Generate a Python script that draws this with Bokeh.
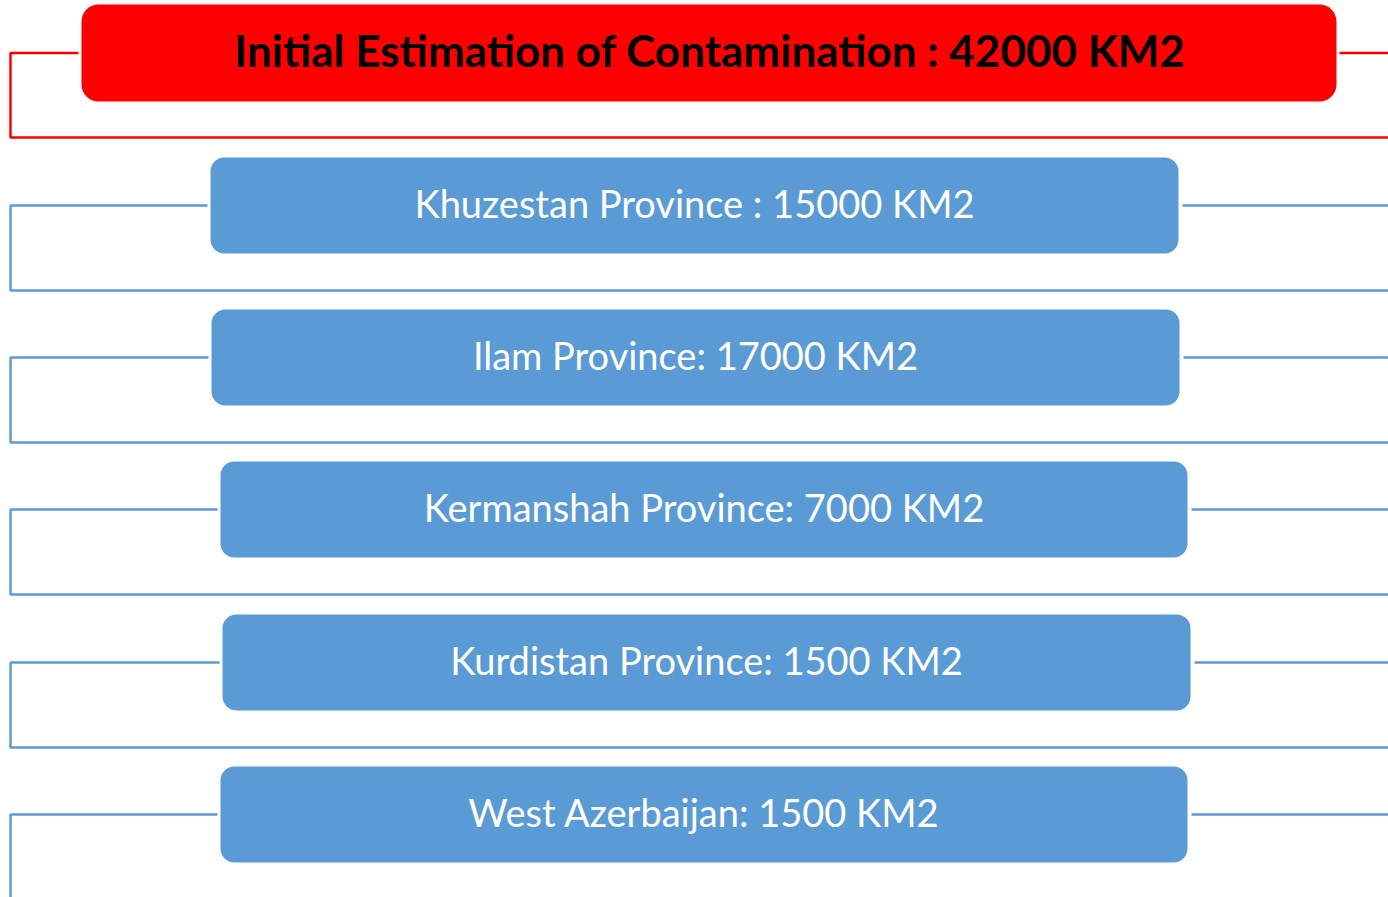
from bokeh.plotting import figure
from bokeh.models import Range1d
from bokeh.core.properties import value
from bokeh.embed import file_html
from bokeh.resources import INLINE

# ---- data ----
title_label = "Initial Estimation of Contamination : 42000 KM2"
provinces = ["Khuzestan Province", "Ilam Province", "Kermanshah Province",
             "Kurdistan Province", "West Azerbaijan"]
separators = [" : ", ": ", ": ", ": ", ": "]
areas_km2 = [15000, 17000, 7000, 1500, 1500]
labels = [f"{n}{s}{a} KM2" for n, s, a in zip(provinces, separators, areas_km2)]

# ---- layout (pixel space of the picture) ----
RED = "#FF0000"
BLUE = "#5B9BD5"
FONT = "Lato"
LW = 2.5

p = figure(width=1388, height=897, output_backend="svg", toolbar_location=None,
           x_range=Range1d(0, 1388), y_range=Range1d(897, 0),
           min_border=0)
p.axis.visible = False
p.grid.visible = False
p.outline_line_color = None
p.background_fill_color = "white"
p.border_fill_color = "white"

# title box
tb = dict(l=81, r=1336, t=4, b=101)
ty = (tb["t"] + tb["b"]) / 2
p.quad(left=[tb["l"]], right=[tb["r"]], top=[tb["t"]], bottom=[tb["b"]],
       fill_color=RED, line_color=None, border_radius=17)
p.line([78, 10, 10, 1400], [ty, ty, 137, 137], line_color=RED, line_width=LW)
p.line([1339, 1400], [ty, ty], line_color=RED, line_width=LW)
p.text(x=[(tb["l"] + tb["r"]) / 2 + 1], y=[ty - 3], text=[title_label],
       text_font=value(FONT), text_font_style="bold", text_font_size="44px",
       text_color="black", text_align="center", text_baseline="middle")

# province boxes
lefts = [210, 211, 220, 222, 220]
rights = [1178, 1179, 1187, 1190, 1187]
tops = [157, 309, 461, 614, 766]
h = 96
for i, lab in enumerate(labels):
    l, r, t = lefts[i], rights[i], tops[i]
    b = t + h
    cy = (t + b) / 2
    p.quad(left=[l], right=[r], top=[t], bottom=[b],
           fill_color=BLUE, line_color=None, border_radius=14)
    bottom_y = b + 37 if i < len(labels) - 1 else 910
    if i < len(labels) - 1:
        p.line([l - 3, 10, 10, 1400], [cy, cy, bottom_y, bottom_y],
               line_color=BLUE, line_width=LW)
    else:
        p.line([l - 3, 10, 10], [cy, cy, bottom_y], line_color=BLUE, line_width=LW)
    p.line([r + 4, 1400], [cy, cy], line_color=BLUE, line_width=LW)
    p.text(x=[(l + r) / 2], y=[cy - 3], text=[lab],
           text_font=value(FONT), text_font_size="38px",
           text_color="white", text_align="center", text_baseline="middle")

open("out.html", "w").write(file_html(p, INLINE))
